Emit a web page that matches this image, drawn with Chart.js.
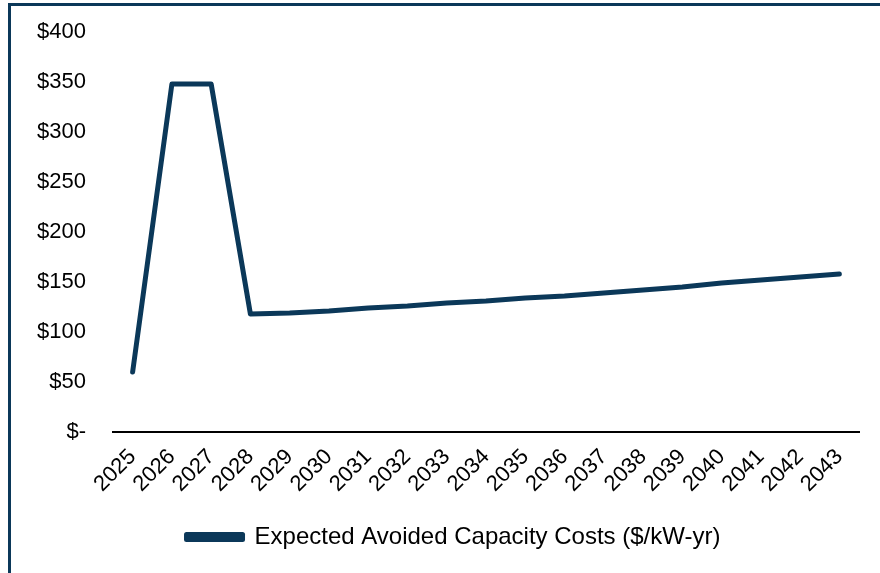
<!DOCTYPE html>
<html>
<head>
<meta charset="utf-8">
<script src="https://cdn.jsdelivr.net/npm/chart.js@4"></script>
<style>
  html, body { margin: 0; padding: 0; background: #fff; }
  #wrap { position: relative; width: 880px; height: 573px; overflow: hidden; }
  #frame {
    position: absolute; left: 8px; top: 3px; right: -10px; bottom: -10px;
    border-top: 3px solid #0b3859; border-left: 3px solid #0b3859;
  }
  canvas { position: absolute; left: 0; top: 0; }
</style>
</head>
<body>
<div id="wrap">
  <div id="frame"></div>
  <canvas id="chart" width="880" height="573"></canvas>
</div>
<script>
// Chart data
const years = ['2025', '2026', '2027', '2028', '2029', '2030', '2031', '2032', '2033', '2034',
               '2035', '2036', '2037', '2038', '2039', '2040', '2041', '2042', '2043'];
const avoidedCosts = [60, 348, 348, 118, 119, 121, 124, 126, 129, 131,
                      134, 136, 139, 142, 145, 149, 152, 155, 158];
const seriesLabel = 'Expected Avoided Capacity Costs ($/kW-yr)';

const navy = '#0b3859';
const fontFamily = "'Liberation Sans', Arial, sans-serif";

// Format y tick labels like "$350" and "$-" for zero
function formatDollar(value) {
  return value === 0 ? '$-' : '$' + value;
}

// Nudge the legend a little to the right, like the original
const legendShift = {
  id: 'legendShift',
  afterLayout(chart) {
    if (chart.legend) {
      chart.legend.left += 24;
      chart.legend.right += 24;
    }
  }
};

new Chart(document.getElementById('chart'), {
  type: 'line',
  data: {
    labels: years,
    datasets: [{
      label: seriesLabel,
      data: avoidedCosts,
      borderColor: navy,
      backgroundColor: navy,
      borderWidth: 5,
      borderJoinStyle: 'round',
      borderCapStyle: 'round',
      pointRadius: 0,
      tension: 0,
      fill: false
    }]
  },
  options: {
    responsive: false,
    animation: false,
    layout: { padding: { top: 32, right: 21, bottom: 14, left: 0 } },
    plugins: {
      tooltip: { enabled: false },
      legend: {
        position: 'bottom',
        labels: {
          color: '#000',
          font: { family: fontFamily, size: 24 },
          boxWidth: 56,
          boxHeight: 5,
          padding: 6
        }
      }
    },
    scales: {
      x: {
        offset: true,
        grid: { display: false, drawTicks: false },
        border: { display: true, color: '#000', width: 2 },
        ticks: {
          color: '#000',
          font: { family: fontFamily, size: 22 },
          minRotation: 45,
          maxRotation: 45,
          padding: 12,
          autoSkip: false
        },
        afterFit: function(scale) { scale.height = 87; }
      },
      y: {
        min: 0,
        max: 400,
        grid: { display: false, drawTicks: false },
        border: { display: false },
        ticks: {
          stepSize: 50,
          color: '#000',
          font: { family: fontFamily, size: 22 },
          padding: 27,
          callback: formatDollar
        },
        afterFit: function(scale) {
          scale.width = 113;
          scale.paddingTop = 0;
          scale.paddingBottom = 0;
        }
      }
    }
  },
  plugins: [legendShift]
});
</script>
</body>
</html>
